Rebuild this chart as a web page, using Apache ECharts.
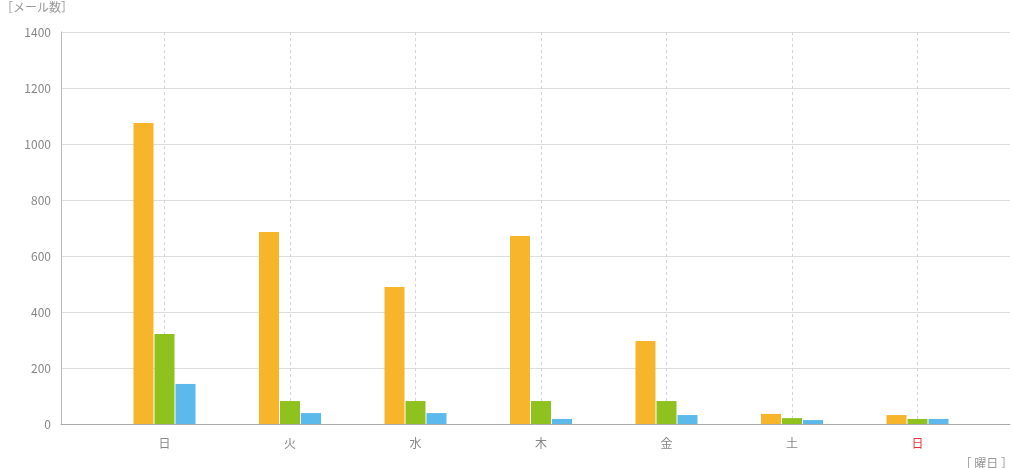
<!DOCTYPE html>
<html><head><meta charset="utf-8">
<script src="https://cdn.jsdelivr.net/npm/echarts@6/dist/echarts.min.js"></script>
<style>html,body{margin:0;padding:0;background:#fff}#c{width:1012px;height:468px}</style>
</head><body><div id="c"></div>
<script>
const categories = ['日', '火', '水', '木', '金', '土', '日'];
const seriesA = [1075, 686, 489, 671, 296, 36, 32];
const seriesB = [321, 82, 82, 82, 82, 21, 18];
const seriesC = [143, 39, 39, 18, 32, 14, 18];
const yTicks = [0, 200, 400, 600, 800, 1000, 1200, 1400];

const font = '"Noto Sans CJK JP", "Noto Sans", sans-serif';
const chart = echarts.init(document.getElementById('c'));
const mkBar = (data, color) => ({
  type: 'bar', xAxisIndex: 1, yAxisIndex: 1, data: data, barWidth: 20, barGap: '5%',
  clip: false, itemStyle: { color: color }, silent: true
});
chart.setOption({
  animation: false,
  textStyle: { fontFamily: font },
  title: [
    { text: '［メール数］', left: -4, top: -4, textStyle: { fontSize: 12, fontWeight: 'normal', color: '#999', fontFamily: font } },
    { text: '［ 曜日 ］', right: -6, top: 452, textStyle: { fontSize: 12, fontWeight: 'normal', color: '#999', fontFamily: font } }
  ],
  grid: [
    { left: 61, right: 2, top: 32, bottom: 44 },
    { left: 164.5, right: 94.5, top: 32, bottom: 44 }
  ],
  xAxis: [
    { type: 'category', gridIndex: 0, data: categories, axisLine: { lineStyle: { color: '#aaa', width: 1 } },
      axisTick: { show: false }, axisLabel: { show: false }, splitLine: { show: false } },
    { type: 'category', gridIndex: 1, data: categories, boundaryGap: false,
      axisLine: { show: false }, axisTick: { show: false },
      axisLabel: { margin: 13, fontSize: 12, fontFamily: font,
        color: function (v, i) { return i === categories.length - 1 ? '#e8303a' : '#888'; } },
      splitLine: { show: true, lineStyle: { color: '#d4d4d4', type: [3, 3], width: 1 } } }
  ],
  yAxis: [
    { type: 'value', gridIndex: 0, min: yTicks[0], max: yTicks[yTicks.length - 1], interval: 200,
      axisLine: { show: true, lineStyle: { color: '#bbb' } }, axisTick: { show: false },
      axisLabel: { color: '#888', fontSize: 12, margin: 10, fontFamily: font, formatter: function (v) { return String(v); } },
      splitLine: { lineStyle: { color: '#ddd' } } },
    { type: 'value', gridIndex: 1, min: yTicks[0], max: yTicks[yTicks.length - 1], interval: 200,
      show: false, splitLine: { show: false } }
  ],
  series: [
    mkBar(seriesA, '#f7b52c'),
    mkBar(seriesB, '#8fc21f'),
    mkBar(seriesC, '#5cb9eb')
  ]
});
</script></body></html>
